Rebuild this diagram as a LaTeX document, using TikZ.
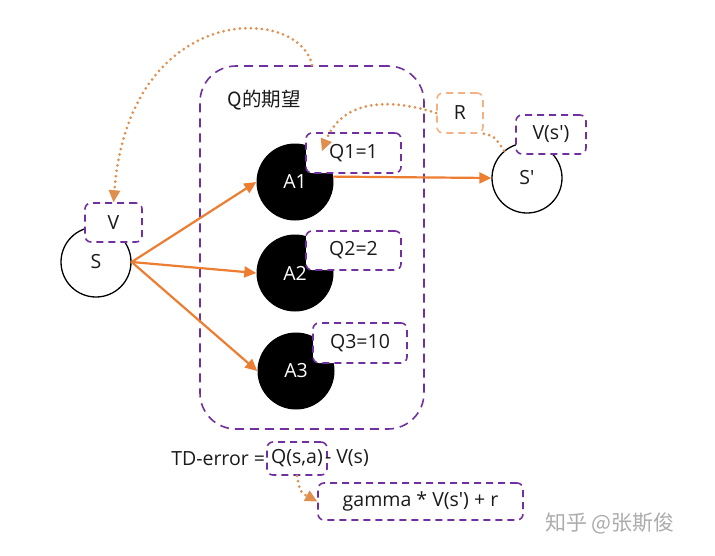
\documentclass[tikz,border=0pt]{standalone}
\usepackage{fontspec}
\setmainfont{Open Sans}[Ligatures=TeXOff]
\newfontfamily\cjk{Noto Sans CJK SC}
\usetikzlibrary{arrows.meta}
\definecolor{purp}{HTML}{7030A0}
\definecolor{orng}{HTML}{ED7D31}
\definecolor{dotor}{HTML}{E0904E}
\definecolor{lightor}{HTML}{F4B183}
\definecolor{txt}{HTML}{1A1A1A}
\tikzset{
  lbl/.style={font=\fontsize{19.5}{23}\selectfont, text=txt},
  qbox/.style={lbl, draw=purp, line width=1.6pt, dash pattern=on 7pt off 5pt,
    rounded corners=6pt, fill=white, inner sep=0pt},
  rbox/.style={qbox, draw=lightor},
  bigbox/.style={draw=purp, line width=1.6pt, dash pattern=on 9pt off 6pt,
    rounded corners=36pt, inner sep=0pt, minimum width=224pt, minimum height=363pt},
  wstate/.style={lbl, circle, draw=black, line width=1.3pt, fill=white,
    minimum size=70pt, inner sep=0pt},
  bstate/.style={lbl, circle, fill=black, text=white, minimum size=77pt, inner sep=0pt},
  oarrow/.style={draw=orng, line width=2.2pt,
    -{Triangle[length=12pt, width=11pt]}},
  dotline/.style={draw=dotor, line width=3pt, line cap=round,
    dash pattern=on 0pt off 5.5pt},
  dotarrow/.style={dotline, -{Triangle[length=12pt, width=12pt, fill=dotor, line width=0pt]}},
}
\begin{document}
\begin{tikzpicture}[x=1pt,y=-1pt]
\useasboundingbox (0,0) rectangle (715,555);

% big dashed container
\node[bigbox] (big) at (312,247.5) {};
\node[font=\cjk\fontsize{19.5}{23}\selectfont, text=txt, anchor=west] (title) at (224,100) {Q的期望};

% states
\node[wstate] (S) at (96,262) {S};
\node[qbox, minimum width=57pt, minimum height=39pt] (V) at (113.5,222.5) {V};

\node[wstate] (S2) at (527,178) {S'};
\node[qbox, minimum width=70pt, minimum height=39pt] (VS2) at (551,134.5) {V(s')};

% actions
\node[bstate] (A1) at (295,182) {A1};
\node[bstate] (A2) at (295,273) {A2};
\node[bstate] (A3) at (296,371) {A3};
\node[qbox, minimum width=95pt, minimum height=40pt] (Q1) at (353.5,153) {Q1=1};
\node[qbox, minimum width=95pt, minimum height=39pt] (Q2) at (353.5,250.5) {Q2=2};
\node[qbox, minimum width=94pt, minimum height=40pt] (Q3) at (360,343) {Q3=10};

% reward
\node[rbox, minimum width=46pt, minimum height=40pt] (R) at (460,113) {R};

% arrows
\draw[oarrow] (S.east) -- (A1.west);
\draw[oarrow] (S.east) -- (A2.west);
\draw[oarrow] (S.east) -- (A3.west);
\draw[oarrow] (A1.8) -- (S2.west);

% dotted connectors
\coordinate (q1tip) at (322,151);
\draw[dotarrow] (big.north) .. controls (300,5) and (130,0) .. (V.north);
\draw[dotarrow] (R.west) .. controls (380,95) and (340,105) .. (q1tip);
\draw[dotline] (R.south east) .. controls (494,136) .. (S2.130);

% TD error
\node[qbox, minimum width=60pt, minimum height=33pt] (Qsa) at (297,458.5) {Q(s,a)};
\node[lbl, anchor=east, inner xsep=1pt] (td1) at (Qsa.west) {TD-error =};
\node[lbl, anchor=west, inner xsep=0pt] (td2) at ([xshift=-3pt]Qsa.east) {- V(s)};
\node[qbox, minimum width=205pt, minimum height=37pt] (gam) at (420.5,501.5) {gamma * V(s') + r};
\draw[dotarrow] (Qsa.south) .. controls (300,492) .. (gam.west);

% watermark
\node[font=\cjk\fontsize{21}{25}\selectfont, text=black!33] (wm) at (610,523) {知乎 @张斯俊};
\end{tikzpicture}
\end{document}
